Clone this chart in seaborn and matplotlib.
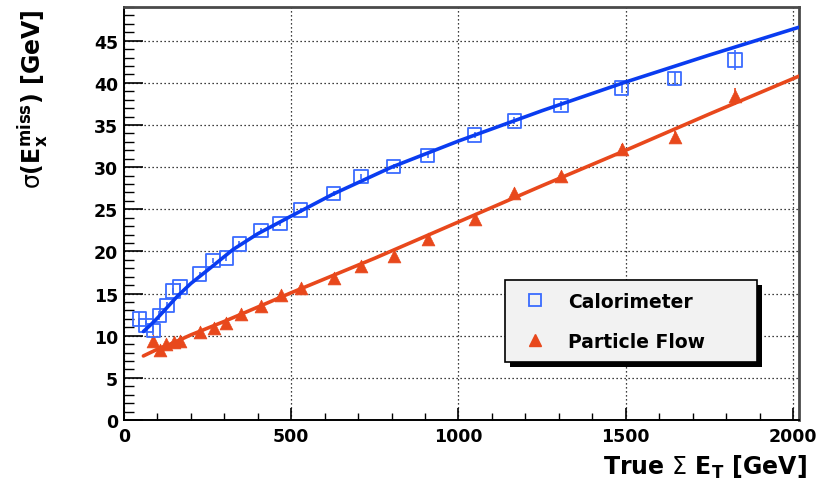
import numpy as np
import pandas as pd
import matplotlib
matplotlib.use("Agg")
import matplotlib.pyplot as plt
import seaborn as sns
from matplotlib.ticker import MultipleLocator
from matplotlib.patches import Rectangle
from matplotlib.lines import Line2D
from matplotlib.transforms import IdentityTransform

# ---- data ----
calo_x = [46, 66, 88, 106, 128, 146, 168, 226, 266, 306, 345, 410, 467, 528,
          627, 709, 806, 908, 1048, 1167, 1307, 1488, 1646, 1827]
calo_y = [12.0, 11.2, 10.6, 12.4, 13.6, 15.3, 15.8, 17.3, 18.9, 19.2, 20.9, 22.5,
          23.3, 24.9, 26.9, 28.9, 30.1, 31.4, 33.8, 35.5, 37.3, 39.4, 40.5, 42.7]
calo_err = [0.8, 0.6, 0.5, 0.5, 0.4, 0.4, 0.4, 0.3, 0.3, 0.3, 0.3, 0.3,
            0.3, 0.3, 0.3, 0.3, 0.3, 0.3, 0.4, 0.4, 0.5, 0.6, 0.8, 1.2]

pf_x = [88, 108, 126, 148, 166, 228, 268, 306, 350, 410, 470, 530,
        627, 709, 806, 908, 1048, 1167, 1307, 1488, 1646, 1827]
pf_y = [9.4, 8.3, 9.0, 9.2, 9.4, 10.5, 10.9, 11.5, 12.6, 13.5, 14.8, 15.7,
        16.9, 18.3, 19.5, 21.5, 23.8, 26.9, 28.9, 32.1, 33.6, 38.4]
pf_err = [0.3, 0.3, 0.3, 0.3, 0.3, 0.3, 0.3, 0.3, 0.3, 0.3, 0.3, 0.3,
          0.3, 0.3, 0.3, 0.3, 0.4, 0.4, 0.5, 0.6, 0.7, 1.0]

# fitted curves
calo_fit_x = [58, 80, 100, 130, 160, 200, 260, 325, 400, 500, 625, 800,
              1000, 1250, 1500, 1750, 2018]
calo_fit_y = [10.5, 11.3, 12.1, 13.4, 14.7, 16.2, 18.1, 20.2, 22.1, 24.2, 26.8,
              30.0, 33.1, 36.7, 40.1, 43.3, 46.6]
pf_fit_x = [58, 100, 150, 200, 300, 400, 500, 750, 1000, 1250, 1500, 1750, 2018]
pf_fit_y = [7.6, 8.4, 9.2, 10.1, 11.7, 13.4, 15.1, 19.2, 23.5, 27.8, 32.0, 36.3, 40.8]

series_labels = ["Calorimeter", "Particle Flow"]
x_label = r"True $\mathrm{\Sigma}$ E$_{\mathbf{T}}$ [GeV]"
y_label = r"$\mathrm{\sigma}$(E$_{\mathbf{x}}^{\mathbf{miss}}$) [GeV]"

BLUE_LINE = "#0a3cf0"
BLUE_MARK = "#3a6bff"
RED = "#e8481c"

# ---- style ----
sns.set_style("ticks")
plt.rcParams["font.family"] = ["DejaVu Sans"]
plt.rcParams["font.weight"] = "bold"
plt.rcParams["text.color"] = "black"
plt.rcParams["mathtext.fontset"] = "custom"
plt.rcParams["mathtext.rm"] = "DejaVu Sans:weight=normal"
plt.rcParams["mathtext.it"] = "DejaVu Sans:bold"
plt.rcParams["mathtext.bf"] = "DejaVu Sans:bold"

W, H = 821, 489
fig = plt.figure(figsize=(W / 100, H / 100), dpi=100)
fig.patch.set_facecolor("white")
ax = fig.add_axes([124 / W, 1 - 421 / H, (799 - 124) / W, (421 - 8) / H])
ax.set_facecolor("white")

calo_fit_df = pd.DataFrame({"x": calo_fit_x, "y": calo_fit_y})
pf_fit_df = pd.DataFrame({"x": pf_fit_x, "y": pf_fit_y})
calo_df = pd.DataFrame({"x": calo_x, "y": calo_y, "e": calo_err})
pf_df = pd.DataFrame({"x": pf_x, "y": pf_y, "e": pf_err})

# error bars
ax.errorbar(calo_df["x"], calo_df["y"], yerr=calo_df["e"], fmt="none",
            ecolor=BLUE_MARK, elinewidth=1.2, zorder=2)
ax.errorbar(pf_df["x"], pf_df["y"], yerr=pf_df["e"], fmt="none",
            ecolor=RED, elinewidth=1.2, zorder=2)

# markers
sns.scatterplot(data=pf_df, x="x", y="y", marker="^", s=85, color=RED,
                edgecolor=RED, linewidth=0.5, ax=ax, zorder=3, legend=False)
sns.scatterplot(data=calo_df, x="x", y="y", marker="s", s=95,
                facecolor="none", edgecolor=BLUE_MARK, linewidth=1.3,
                ax=ax, zorder=3, legend=False)

# fit curves
sns.lineplot(data=calo_fit_df, x="x", y="y", color=BLUE_LINE, linewidth=2.6,
             sort=False, ax=ax, zorder=4)
sns.lineplot(data=pf_fit_df, x="x", y="y", color=RED, linewidth=2.6,
             sort=False, ax=ax, zorder=4)

ax.set_xlim(0, 2018)
ax.set_ylim(0, 49)
ax.xaxis.set_major_locator(MultipleLocator(500))
ax.xaxis.set_minor_locator(MultipleLocator(100))
ax.yaxis.set_major_locator(MultipleLocator(5))
ax.yaxis.set_minor_locator(MultipleLocator(1))
ax.tick_params(which="both", direction="in", top=False, right=False,
               labelsize=12.5, colors="black")
ax.tick_params(axis="y", which="major", length=13.5, width=1.2, pad=4.3)
ax.tick_params(axis="y", which="minor", length=7, width=1.0)
ax.tick_params(axis="x", which="major", length=8.6, width=1.2, pad=5)
ax.tick_params(axis="x", which="minor", length=5, width=1.0)
for lab in ax.get_xticklabels() + ax.get_yticklabels():
    lab.set_fontweight("bold")

ax.grid(True, which="major", color="black", linestyle=(0, (1, 2.2)), linewidth=0.9)
for s in ["left", "bottom"]:
    ax.spines[s].set_color("black")
    ax.spines[s].set_linewidth(1.4)
for s in ["top", "right"]:
    ax.spines[s].set_color("#4a4a4a")
    ax.spines[s].set_linewidth(2.0)
ax.set_xlabel("")
ax.set_ylabel("")

fig.text(807 / W, 1 - 467 / H, x_label, ha="right", va="center",
         fontsize=17, fontweight="bold", color="black")
fig.text(33 / W, 1 - 9 / H, y_label, ha="center", va="top", rotation=90,
         fontsize=17, fontweight="bold", color="black")

# legend
handles = [
    Line2D([], [], linestyle="none", marker="s", markersize=9,
           markerfacecolor="none", markeredgecolor=BLUE_MARK, markeredgewidth=1.3),
    Line2D([], [], linestyle="none", marker="^", markersize=9,
           markerfacecolor=RED, markeredgecolor=RED),
]
leg = ax.legend(handles, series_labels, loc="upper left",
                bbox_to_anchor=(505 / W, 1 - 363 / H, 252 / W, 82 / H),
                bbox_transform=fig.transFigure, mode="expand",
                frameon=True, fancybox=False, edgecolor="black",
                facecolor="#f2f2f2", framealpha=1,
                prop={"weight": "bold", "size": 13.5},
                borderpad=0.62, labelspacing=1.13, handlelength=2.0,
                handletextpad=0.75, borderaxespad=0)
leg.get_frame().set_linewidth(1.2)
leg.set_zorder(10)
for t in leg.get_texts():
    t.set_color("black")

fig.canvas.draw()
bb = leg.get_window_extent()
shadow = Rectangle((bb.x0 + 5, bb.y0 - 5), bb.width, bb.height,
                   transform=IdentityTransform(), facecolor="black",
                   edgecolor="none", zorder=9.5, clip_on=False)
ax.add_artist(shadow)

fig.savefig("out.png", dpi=100)
